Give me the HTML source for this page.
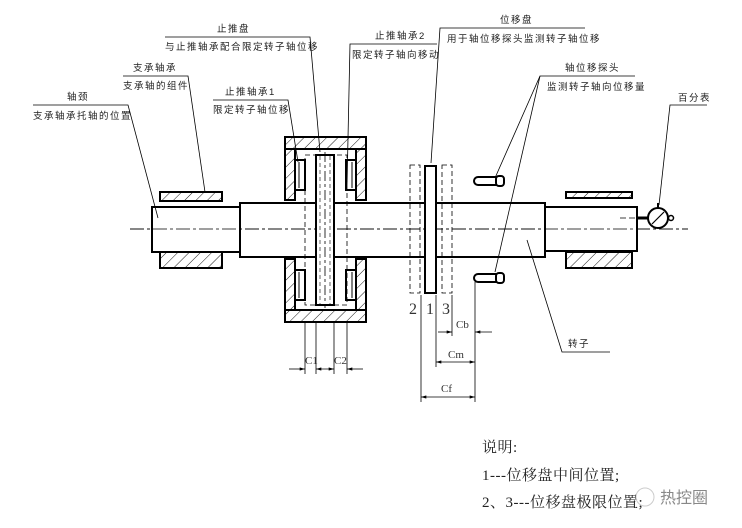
<!DOCTYPE html>
<html><head><meta charset="utf-8"><style>
html,body{margin:0;padding:0;background:#fff;}
svg{display:block}
.t{font-family:"Liberation Sans","Noto Sans CJK SC",sans-serif;font-size:9.5px;fill:#222;letter-spacing:1.5px}
.d{font-family:"Liberation Serif","Noto Serif CJK SC",serif;fill:#333}
.b{font-family:"Liberation Serif","Noto Serif CJK SC",serif;font-size:15px;fill:#222;letter-spacing:0.5px}
</style></head><body>
<svg width="742" height="528" viewBox="0 0 742 528" xmlns="http://www.w3.org/2000/svg">
<defs>
<pattern id="h" width="8" height="8" patternUnits="userSpaceOnUse" patternTransform="rotate(45)">
<line x1="0" y1="0" x2="0" y2="8" stroke="#000" stroke-width="0.9"/></pattern>
<marker id="a" viewBox="0 0 10 6" refX="10" refY="3" markerWidth="8" markerHeight="4" orient="auto-start-reverse"><path d="M0,0L10,3L0,6z" fill="#000"/></marker>
</defs>
<rect width="742" height="528" fill="#fff"/>
<line x1="130" y1="229" x2="688" y2="229" stroke="#000" stroke-width="0.8" stroke-dasharray="14,3,3,3"/>
<rect x="160" y="192" width="62" height="9" fill="url(#h)" stroke="#000" stroke-width="2"/>
<rect x="160" y="252" width="62" height="16" fill="url(#h)" stroke="#000" stroke-width="2"/>
<rect x="152" y="207" width="88" height="45" fill="#fff" stroke="#000" stroke-width="2"/>
<path d="M240,203H545V257H240Z" fill="none" stroke="#000" stroke-width="2"/>
<rect x="566" y="192" width="66" height="6" fill="url(#h)" stroke="#000" stroke-width="2"/>
<rect x="566" y="252" width="66" height="16" fill="url(#h)" stroke="#000" stroke-width="2"/>
<rect x="545" y="207" width="92" height="44" fill="#fff" stroke="#000" stroke-width="2"/>
<line x1="130" y1="229" x2="688" y2="229" stroke="#000" stroke-width="0.8" stroke-dasharray="14,3,3,3"/>
<line x1="637" y1="218" x2="648" y2="218" stroke="#000" stroke-width="3"/>
<line x1="620" y1="218" x2="637" y2="218" stroke="#000" stroke-width="0.8" stroke-dasharray="6,3"/>
<circle cx="658" cy="218" r="10" fill="#fff" stroke="#000" stroke-width="2"/>
<line x1="652" y1="224" x2="664" y2="212" stroke="#000" stroke-width="1.2"/>
<circle cx="671" cy="218" r="2.5" fill="none" stroke="#000" stroke-width="1.5"/>
<line x1="658" y1="203" x2="658" y2="208" stroke="#000" stroke-width="2"/>
<g stroke="#000">
<rect x="285" y="137" width="81" height="12" fill="url(#h)" stroke-width="2"/>
<rect x="285" y="310" width="81" height="12" fill="url(#h)" stroke-width="2"/>
<rect x="285" y="149" width="10" height="51" fill="url(#h)" stroke-width="2"/>
<rect x="356" y="149" width="10" height="51" fill="url(#h)" stroke-width="2"/>
<rect x="285" y="259" width="10" height="51" fill="url(#h)" stroke-width="2"/>
<rect x="356" y="259" width="10" height="51" fill="url(#h)" stroke-width="2"/>
<rect x="295" y="160" width="10" height="30" fill="#fff" stroke-width="2"/>
<rect x="346" y="160" width="10" height="30" fill="#fff" stroke-width="2"/>
<rect x="295" y="270" width="10" height="30" fill="#fff" stroke-width="2"/>
<rect x="346" y="270" width="10" height="30" fill="#fff" stroke-width="2"/>
<line x1="299" y1="162" x2="299" y2="188" stroke-width="1"/><line x1="352" y1="162" x2="352" y2="188" stroke-width="1"/>
<line x1="299" y1="272" x2="299" y2="298" stroke-width="1"/><line x1="352" y1="272" x2="352" y2="298" stroke-width="1"/>
<rect x="305" y="155" width="42" height="150" fill="none" stroke-width="0.8" stroke-dasharray="5,3"/>
<rect x="316" y="155" width="18" height="150" fill="#fff" stroke-width="2"/>
<line x1="325" y1="152" x2="325" y2="308" stroke-width="0.8" stroke-dasharray="10,3,3,3"/>
<line x1="320" y1="156" x2="320" y2="304" stroke-width="0.6" stroke-dasharray="4,3"/>
<line x1="330" y1="156" x2="330" y2="304" stroke-width="0.6" stroke-dasharray="4,3"/>
</g>
<rect x="410" y="165" width="10" height="128" fill="none" stroke="#000" stroke-width="0.8" stroke-dasharray="5,3"/>
<rect x="442" y="165" width="10" height="128" fill="none" stroke="#000" stroke-width="0.8" stroke-dasharray="5,3"/>
<rect x="425" y="166" width="11" height="127" fill="#fff" stroke="#000" stroke-width="2"/>
<g stroke="#000" stroke-width="2" fill="#fff">
<path d="M498,177H478a4,4 0 0 0 0,8H498"/><rect x="496" y="176" width="8" height="10" rx="3"/>
<path d="M498,274H478a4,4 0 0 0 0,8H498"/><rect x="496" y="273" width="8" height="10" rx="3"/>
</g>
<text class="d" x="409" y="314" font-size="16">2</text>
<text class="d" x="426" y="314" font-size="16">1</text>
<text class="d" x="442" y="314" font-size="16">3</text>
<g stroke="#000" stroke-width="0.8" fill="none">
<line x1="305" y1="322" x2="305" y2="374"/><line x1="316" y1="322" x2="316" y2="374"/>
<line x1="334" y1="322" x2="334" y2="374"/><line x1="347" y1="322" x2="347" y2="374"/>
<line x1="289" y1="369" x2="305" y2="369" marker-end="url(#a)"/>
<line x1="316" y1="369" x2="334" y2="369" marker-start="url(#a)" marker-end="url(#a)"/>
<line x1="363" y1="369" x2="347" y2="369" marker-end="url(#a)"/>
<line x1="421" y1="295" x2="421" y2="402"/>
<line x1="436" y1="295" x2="436" y2="367"/>
<line x1="452" y1="295" x2="452" y2="336"/>
<line x1="475" y1="282" x2="475" y2="402"/>
<line x1="438" y1="332" x2="452" y2="332" marker-end="url(#a)"/>
<line x1="492" y1="332" x2="475" y2="332" marker-end="url(#a)"/>
<line x1="436" y1="362" x2="475" y2="362" marker-start="url(#a)" marker-end="url(#a)"/>
<line x1="421" y1="397" x2="475" y2="397" marker-start="url(#a)" marker-end="url(#a)"/>
</g>
<text class="d" x="305" y="364" font-size="11">C1</text>
<text class="d" x="334" y="364" font-size="11">C2</text>
<text class="d" x="456" y="328" font-size="11">Cb</text>
<text class="d" x="448" y="358" font-size="11">Cm</text>
<text class="d" x="441" y="392" font-size="11">Cf</text>
<g stroke="#000" stroke-width="0.8" fill="none">
<polyline points="33,105 128,105 158,218"/>
<polyline points="123,76 188,76 205,192"/>
<polyline points="165,37 310,37 320,152"/>
<polyline points="213,100 288,100 298,162"/>
<polyline points="437,44 350,44 347,185"/>
<polyline points="585,28 440,28 431,163"/>
<polyline points="635,76 540,76 495,178"/>
<polyline points="540,76 495,272"/>
<polyline points="707,105 670,105 659,205"/>
<polyline points="527,240 562,352 610,352"/>
</g>
<text class="t" x="67" y="100">轴颈</text>
<text class="t" x="33" y="119">支承轴承托轴的位置</text>
<text class="t" x="133" y="71">支承轴承</text>
<text class="t" x="123" y="89">支承轴的组件</text>
<text class="t" x="217" y="32">止推盘</text>
<text class="t" x="165" y="50">与止推轴承配合限定转子轴位移</text>
<text class="t" x="225" y="95">止推轴承1</text>
<text class="t" x="213" y="113">限定转子轴位移</text>
<text class="t" x="375" y="39">止推轴承2</text>
<text class="t" x="352" y="58">限定转子轴向移动</text>
<text class="t" x="500" y="23">位移盘</text>
<text class="t" x="447" y="42">用于轴位移探头监测转子轴位移</text>
<text class="t" x="565" y="71">轴位移探头</text>
<text class="t" x="547" y="90">监测转子轴向位移量</text>
<text class="t" x="678" y="101">百分表</text>
<text class="t" x="568" y="347">转子</text>
<text class="b" x="482" y="452">说明:</text>
<text class="b" x="482" y="480">1---位移盘中间位置;</text>
<text class="b" x="482" y="507">2、3---位移盘极限位置;</text>
<circle cx="645" cy="497" r="9" fill="none" stroke="#ccc" stroke-width="1"/>
<text x="660" y="503" font-family="'Noto Sans CJK SC',sans-serif" font-size="16" fill="#888">热控圈</text>
</svg>
</body></html>
